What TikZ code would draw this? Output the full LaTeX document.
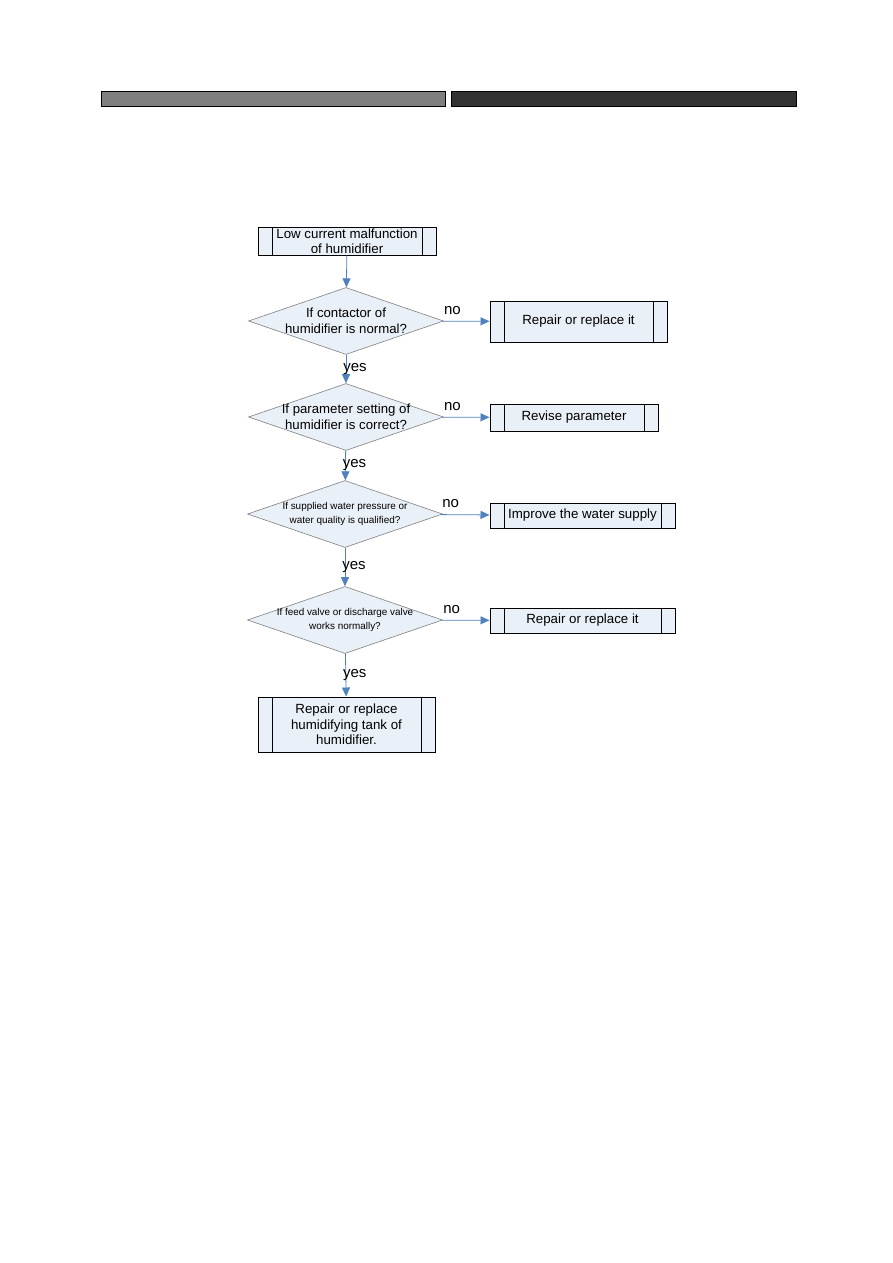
\documentclass[tikz,border=0pt]{standalone}
\usepackage{fontspec}
\setmainfont{Liberation Sans}
\usetikzlibrary{arrows.meta,shapes.geometric}
\definecolor{fcblue}{HTML}{4F81BD}
\definecolor{fcfill}{HTML}{EAF0F8}
\definecolor{fcgray}{HTML}{7F7F7F}
\definecolor{fcdark}{HTML}{333333}
\tikzset{
  fcbox/.style={draw=black, fill=fcfill, line width=1pt, inner sep=0pt, align=center,
                font=\fontsize{13.3}{15.5}\selectfont,
                path picture={
                  \draw[line width=1pt] ([xshift=14pt]path picture bounding box.north west)
                    -- ([xshift=14pt]path picture bounding box.south west);
                  \draw[line width=1pt] ([xshift=-14pt]path picture bounding box.north east)
                    -- ([xshift=-14pt]path picture bounding box.south east);}},
  fcdecision/.style={diamond, draw=fcgray, fill=fcfill, line width=0.6pt, inner sep=0pt,
                     minimum width=195pt, minimum height=67pt},
  fcq/.style={align=center, font=\fontsize{13.2}{16.5}\selectfont},
  fcqsmall/.style={align=center, font=\fontsize{9.9}{14}\selectfont},
  fcedge/.style={-{Triangle[length=9pt,width=8pt]}, draw=fcblue, line width=0.8pt},
  fcyes/.style={font=\fontsize{15}{15}\selectfont, xshift=9pt},
  fcno/.style={font=\fontsize{15}{15}\selectfont, pos=0.2, yshift=11pt},
  fcbar/.style={draw=black, line width=0.8pt},
}
\begin{document}
\begin{tikzpicture}[x=1pt,y=-1pt]
  \useasboundingbox (0,0) rectangle (893,1263);
  % header bars
  \fill[fcgray] (101,91) rectangle (445,106);
  \draw[fcbar] (101,91) rectangle (445,106);
  \fill[fcdark] (451,91) rectangle (796,106);
  \draw[fcbar] (451,91) rectangle (796,106);
  % flow
  \node[fcbox, minimum width=178pt, minimum height=28pt] (start) at (347,241)
    {Low current malfunction\\of humidifier};
  \node[fcdecision, label={[fcq]center:If contactor of\\humidifier is normal?}] (q1) at (346,321) {};
  \node[fcdecision, label={[fcq]center:If parameter setting of\\humidifier is correct?}] (q2) at (346,417) {};
  \node[fcdecision, label={[fcqsmall]center:If supplied water pressure or\\water quality is qualified?}] (q3) at (345,514) {};
  \node[fcdecision, label={[fcqsmall]center:If feed valve or discharge valve\\works normally?}] (q4) at (345,620) {};
  \node[fcbox, minimum width=177pt, minimum height=55pt] (tank) at (346.5,724.5)
    {Repair or replace\\humidifying tank of\\humidifier.};
  \node[fcbox, minimum width=177pt, minimum height=41pt] (r1) at (578.5,321.5) {Repair or replace it};
  \node[fcbox, minimum width=168pt, minimum height=27pt] (r2) at (574,417.5) {Revise parameter};
  \node[fcbox, minimum width=185pt, minimum height=25pt] (r3) at (582.5,515.5) {Improve the water supply};
  \node[fcbox, minimum width=185pt, minimum height=25pt] (r4) at (582.5,620.5) {Repair or replace it};
  % connectors
  \draw[fcedge] (start) -- (q1);
  \draw[fcedge] (q1) -- node[fcyes] {yes} (q2);
  \draw[fcedge] (q2) -- node[fcyes] {yes} (q3);
  \draw[fcedge] (q3) -- node[fcyes] {yes} (q4);
  \draw[fcedge] (q4) -- node[fcyes] {yes} (tank);
  \draw[fcedge] (q1) -- node[fcno] {no} (r1);
  \draw[fcedge] (q2) -- node[fcno] {no} (r2);
  \draw[fcedge] (q3) -- node[fcno] {no} (r3);
  \draw[fcedge] (q4) -- node[fcno] {no} (r4);
\end{tikzpicture}
\end{document}
